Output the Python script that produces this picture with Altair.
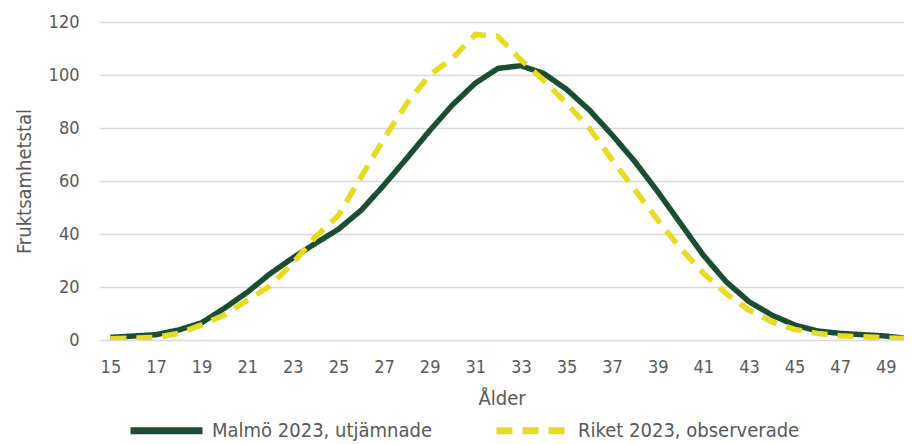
import altair as alt
import pandas as pd

ages = list(range(15, 51))
malmo = [1, 1.5, 2, 3.8, 6.5, 12, 18, 25, 31, 36.5, 41.8, 49, 58.5, 68.6, 79, 88.7, 96.9,
         102.5, 103.5, 100.6, 94.6, 86.8, 77.4, 67.3, 56, 44, 32, 22, 14.5, 9.4, 5.7, 3.4,
         2.5, 2, 1.5, 0.5]
riket = [0.5, 0.7, 1, 2.5, 5.7, 9.4, 15, 20.4, 29, 39, 47, 61.6, 76, 89.3, 100, 106.3, 115.3,
         114.5, 105.7, 98, 89.3, 80, 68, 56.6, 45.3, 34.6, 25.2, 17.6, 11.3, 6.9, 4, 2.5,
         1.6, 1.2, 0.8, 0.5]
series_names = ["Malmö 2023, utjämnade", "Riket 2023, observerade"]
x_ticks = list(range(15, 50, 2))
y_ticks = [0, 20, 40, 60, 80, 100, 120]

rows = []
for a, v in zip(ages, malmo):
    rows.append({"Ålder": a, "Värde": v, "Serie": series_names[0]})
for a, v in zip(ages, riket):
    rows.append({"Ålder": a, "Värde": v, "Serie": series_names[1]})
df = pd.DataFrame(rows)

FONT = "'DejaVu Sans Condensed', 'Open Sans', sans-serif"
TXT = "#595959"

chart = alt.Chart(df).mark_line(strokeWidth=5.5, clip=True, strokeCap="butt").encode(
    x=alt.X("Ålder:Q", scale=alt.Scale(domain=[14.5, 49.8], nice=False, zero=False),
            axis=alt.Axis(values=x_ticks, title="Ålder", grid=False, ticks=False,
                          domain=False, labelPadding=18, titlePadding=12,
                          labelFontSize=18, titleFontSize=20, labelFont=FONT, titleFont=FONT,
                          labelColor=TXT, titleColor=TXT, titleFontWeight="normal")),
    y=alt.Y("Värde:Q", scale=alt.Scale(domain=[0, 120], nice=False),
            axis=alt.Axis(values=y_ticks, title="Fruktsamhetstal", grid=True, gridColor="#d9d9d9",
                          gridWidth=1.5, ticks=False, domain=False, labelPadding=20,
                          titlePadding=14, labelFontSize=18, titleFontSize=20,
                          labelFont=FONT, titleFont=FONT, labelColor=TXT, titleColor=TXT,
                          titleFontWeight="normal")),
    color=alt.Color("Serie:N", scale=alt.Scale(domain=series_names, range=["#1b4d33", "#e8dc22"]),
                    legend=alt.Legend(title=None, orient="none", direction="horizontal",
                                      legendX=28, legendY=369, symbolType="stroke",
                                      symbolSize=5184, symbolStrokeWidth=7,
                                      labelFontSize=20, labelFont=FONT, labelColor=TXT,
                                      labelLimit=500, labelOffset=6, columnPadding=50)),
    strokeDash=alt.StrokeDash("Serie:N", scale=alt.Scale(domain=series_names, range=[[1, 0], [16, 10]]),
                              legend=None),
    order=alt.Order("Ålder:Q"),
).properties(
    width=805, height=318,
    autosize=alt.AutoSizeParams(type="none"),
    padding={"left": 91, "top": 14, "right": 0, "bottom": 104},
).configure_view(stroke=None)

chart.save("out.html", embed_options={"renderer": "svg", "actions": False})
